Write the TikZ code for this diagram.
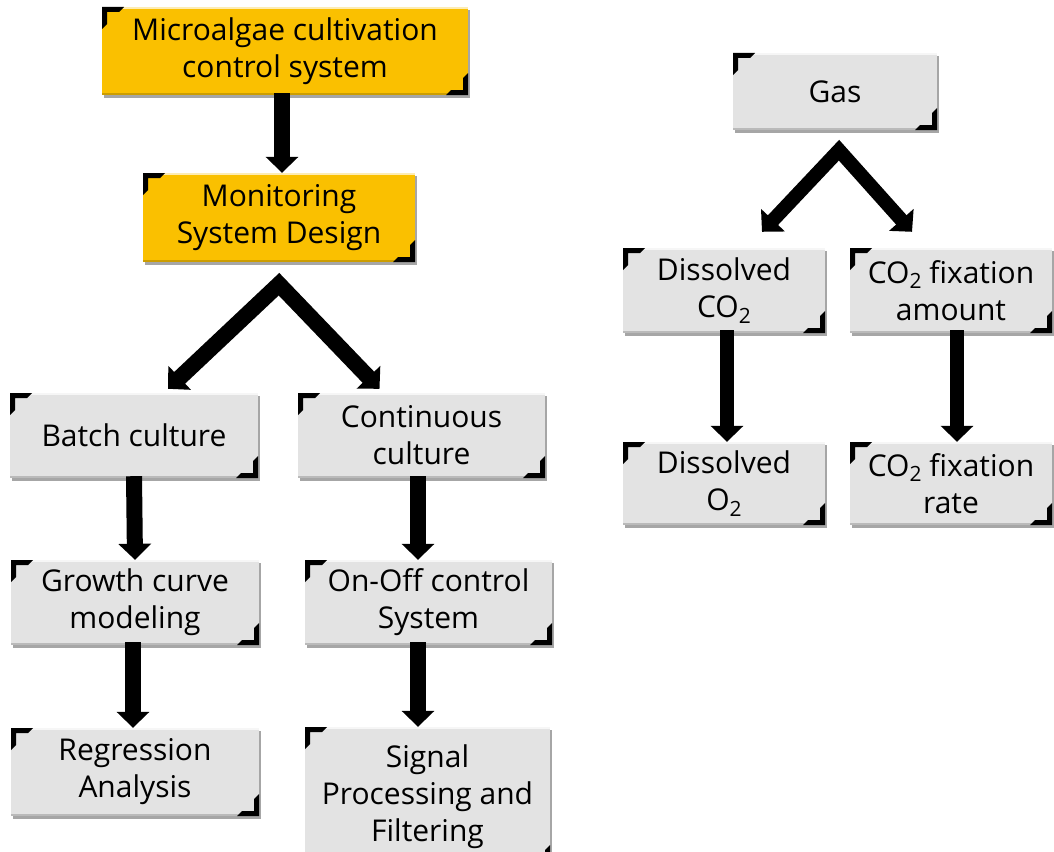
\documentclass[tikz,border=0pt]{standalone}
\usepackage{fontspec}
\setmainfont{Open Sans}
\usetikzlibrary{arrows.meta,shadows,calc}
\definecolor{boxgray}{RGB}{227,227,227}
\definecolor{boxyellow}{RGB}{250,192,0}
\newcommand{\cotwo}{CO\raisebox{-0.35ex}{\fontsize{21}{21}\selectfont 2}}
\newcommand{\otwo}{O\raisebox{-0.35ex}{\fontsize{21}{21}\selectfont 2}}
\tikzset{
  box/.style n args={2}{draw=none, fill=boxgray, minimum width=#1, minimum height=#2,
    inner sep=0pt, align=center, font=\fontsize{30}{37}\selectfont,
    drop shadow={shadow xshift=2pt, shadow yshift=-3pt, opacity=.35, fill=black},
    path picture={
      \fill[white,opacity=.7] (path picture bounding box.north west) rectangle ([yshift=-2pt]path picture bounding box.north east);
      \fill[black,opacity=.18] (path picture bounding box.south west) rectangle ([yshift=2pt]path picture bounding box.south east);
      \fill[black] (path picture bounding box.north west) -- ++(22,0) -- ++(-5,5) -- ++(-12,0) -- ++(0,12) -- ++(-5,5) -- cycle;
      \fill[black] (path picture bounding box.south east) -- ++(-22,0) -- ++(5,-5) -- ++(12,0) -- ++(0,-12) -- ++(5,-5) -- cycle;
    }},
  ybox/.style={fill=boxyellow},
  bigarr/.style={draw=black, line width=16pt, -{Triangle[width=32pt,length=16pt]}, line join=miter},
  varr/.style={draw=black, line width=16pt, {Triangle[width=32pt,length=16pt]}-{Triangle[width=32pt,length=16pt]}, line join=miter},
}
\begin{document}
\begin{tikzpicture}[x=1pt,y=-1pt]
\useasboundingbox[fill=white] (0,0) rectangle (1054,851);
% left tree
\node[box={366pt}{88pt}, ybox] (top) at (285,51) {Microalgae cultivation\\control system};
\node[box={272pt}{89pt}, ybox] (mon) at (279,217.5) {Monitoring\\System Design};
\node[box={248pt}{85pt}] (batch) at (134,435.5) {Batch culture};
\node[box={247pt}{85pt}] (cont) at (421.5,435.5) {Continuous\\culture};
\node[box={248pt}{85pt}] (growth) at (135,602.5) {Growth curve\\modeling};
\node[box={247pt}{85pt}] (onoff) at (428.5,602.5) {On-Off control\\System};
\node[box={248pt}{88pt}] (regr) at (135,772) {Regression\\Analysis};
\node[box={245pt}{140pt}] (sig) at (427.5,797) {Signal\\Processing and\\Filtering};
% right tree
\node[box={204pt}{77pt}] (gas) at (835,91.5) {Gas};
\node[box={202pt}{85pt}] (dco2) at (724,290.5) {Dissolved\\\cotwo};
\node[box={202pt}{85pt}] (fixam) at (951,290.5) {\cotwo{} fixation\\amount};
\node[box={202pt}{83pt}] (do2) at (724,483.5) {Dissolved\\\otwo};
\node[box={202pt}{83pt}] (fixr) at (951,483.5) {\cotwo{} fixation\\rate};
% vertical arrows
\draw[bigarr] ([xshift=-3pt,yshift=2pt]top.south) -- ([xshift=3pt]mon.north);
\draw[bigarr] ([yshift=2pt]batch.south) -- (growth.north);
\draw[bigarr] ([xshift=-2pt,yshift=3pt]growth.south) -- ([xshift=-2pt]regr.north);
\draw[bigarr] ([xshift=-3.5pt,yshift=2pt]cont.south) -- ([xshift=-10.5pt]onoff.north);
\draw[bigarr] ([xshift=-10.5pt,yshift=3pt]onoff.south) -- ([xshift=-9.5pt]sig.north);
\draw[bigarr, line width=14pt] ([xshift=3pt,yshift=3pt]dco2.south) -- ([xshift=3pt]do2.north);
\draw[bigarr, line width=14pt] ([xshift=6pt,yshift=3pt]fixam.south) -- ([xshift=6pt]fixr.north);
% V connectors
\coordinate (apexL) at ($(mon.south)+(0,22)$);
\coordinate (tipLL) at ($(batch.north)+(34,-4)$);
\coordinate (tipLR) at ($(cont.north)+(-42,-4)$);
\draw[varr] (tipLL) -- (apexL) -- (tipLR);
\coordinate (apexR) at ($(gas.south)+(4,20)$);
\coordinate (tipRL) at ($(dco2.north)+(38,-16)$);
\coordinate (tipRR) at ($(fixam.north)+(-39,-16)$);
\draw[varr, line width=14pt] (tipRL) -- (apexR) -- (tipRR);
\end{tikzpicture}
\end{document}
